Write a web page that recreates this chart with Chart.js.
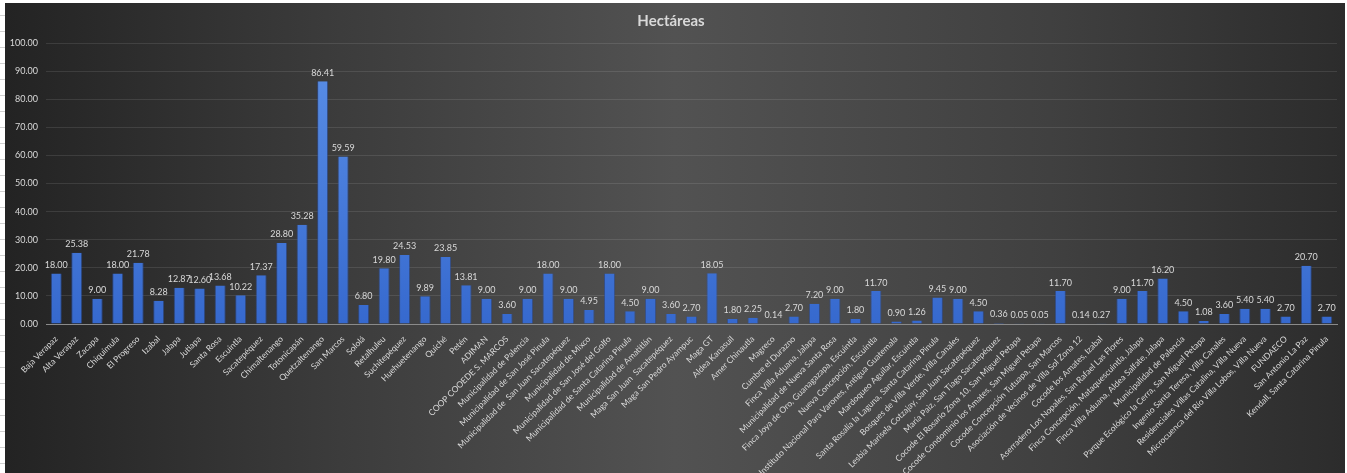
<!DOCTYPE html>
<html>
<head>
<meta charset="utf-8">
<script src="https://cdn.jsdelivr.net/npm/chart.js@4"></script>
<style>
  html, body { margin: 0; padding: 0; background: #fff; }
  body { width: 1347px; height: 473px; position: relative; overflow: hidden; }
  .sheet-edge {
    position: absolute; left: 0; top: 0; width: 5px; height: 473px;
    background: repeating-linear-gradient(to bottom, #fff 0px, #fff 15px, #d0d0d0 15px, #d0d0d0 16px);
  }
  .chart-box {
    position: absolute; left: 5px; top: 3px; width: 1340px; height: 470px;
    background: linear-gradient(to right, #232323 0%, #3c3c3c 25%, #525252 50%, #404040 78%, #2c2c2c 100%);
  }
</style>
</head>
<body>
<div class="sheet-edge"></div>
<div class="chart-box"><canvas id="hectareas-chart" width="1340" height="470"></canvas></div>
<script>
// Hectáreas por lugar

const lugares = [
    'Baja Verapaz', 'Alta Verapaz', 'Zacapa', 'Chiquimula', 'El Progreso', 'Izabal', 'Jalapa', 'Jutiapa',
    'Santa Rosa', 'Escuintla', 'Sacatepéquez', 'Chimaltenango', 'Totonicapán', 'Quetzaltenango', 'San Marcos',
    'Sololá', 'Retalhuleu', 'Suchitepéquez', 'Huehuetenango', 'Quiché', 'Petén', 'ADIMAN',
    'COOP COOEDE S. MARCOS', 'Municipalidad de Palencia', 'Municipalidad de San José Pinula',
    'Municipalidad de  San Juan Sacatepéquez', 'Municipalidad de Mixco', 'Municipalidad de San José del Golfo',
    'Municipalidad de Santa Catarina Pinula', 'Municipalidad de Amatitlán', 'Maga San Juan  Sacatepéquez',
    'Maga San Pedro Ayampuc', 'Maga GT', 'Aldea Kanasuil', 'Amer Chinautla', 'Magreco', 'Cumbre el Durazno',
    'Finca Villa Aduana, Jalapa', 'Municipalidad de Nueva Santa Rosa', 'Finca Joya de Oro, Guanagazapa, Escuintla',
    'Nueva Concepción, Escuintla', 'Instituto Nacional Para Varones, Antigua Guatemala',
    'Mardoqueo Aguilar, Escuintla', 'Santa Rosalía la Laguna, Santa Catarina Pinula',
    'Bosques de Villa Verde, Villa Canales', 'Lesbia Marisela Cotzajay, San Juan Sacatepéquez',
    'María Paiz, San Tiago Sacatepéquez', 'Cocode El Rosario Zona 10, San Miguel Petapa',
    'Cocode Condominio los Amates, San Miguel Petapa', 'Cocode Concepción Tutuapa, San Marcos',
    'Asociación de Vecinos de Villa Sol Zona 12', 'Cocode los Amates, Izabal',
    'Aserradero Los Nopales, San Rafael Las Flores', 'Finca Concepción, Mataquescuintla, Jalapa',
    'Finca Villa Aduana, Aldea Salfate, Jalapa', 'Municipalidad de Palencia',
    'Parque Ecológico la Cerra, San Miguel Petapa', 'Ingenio Santa Teresa, Villa Canales',
    'Residenciales Villas Catalina, Villa Nueva', 'Microcuenca del Río Villa Lobos, Villa Nueva',
    'FUNDAECO', 'San Antonio La Paz', 'Kendall, Santa Catarina Pinula'
];

const hectareas = [
    18.00, 25.38, 9.00, 18.00, 21.78, 8.28, 12.87, 12.60,
    13.68, 10.22, 17.37, 28.80, 35.28, 86.41, 59.59,
    6.80, 19.80, 24.53, 9.89, 23.85, 13.81, 9.00,
    3.60, 9.00, 18.00,
    9.00, 4.95, 18.00,
    4.50, 9.00, 3.60,
    2.70, 18.05, 1.80, 2.25, 0.14, 2.70,
    7.20, 9.00, 1.80,
    11.70, 0.90,
    1.26, 9.45,
    9.00, 4.50,
    0.36, 0.05,
    0.05, 11.70,
    0.14, 0.27,
    9.00, 11.70,
    16.20, 4.50,
    1.08, 3.60,
    5.40, 5.40,
    2.70, 20.70, 2.70
];

const yTicks = [0, 10, 20, 30, 40, 50, 60, 70, 80, 90, 100];

const textColor = '#d9d9d9';
const fontFamily = 'Lato, "Liberation Sans", sans-serif';

// Vertical gradient for the bars, built from the chart area
function barGradient(context) {
    const chart = context.chart;
    const area = chart.chartArea;
    if (!area) return '#4a7fdc';
    const g = chart.ctx.createLinearGradient(0, area.top, 0, area.bottom);
    g.addColorStop(0, '#5b90e8');
    g.addColorStop(1, '#3669ce');
    return g;
}

// Value labels above each bar
const valueLabels = {
    id: 'valueLabels',
    afterDatasetsDraw(chart) {
        const ctx = chart.ctx;
        const meta = chart.getDatasetMeta(0);
        ctx.save();
        ctx.fillStyle = textColor;
        ctx.font = '9px ' + fontFamily;
        ctx.textAlign = 'center';
        ctx.textBaseline = 'bottom';
        meta.data.forEach((bar, i) => {
            ctx.fillText(hectareas[i].toFixed(2), bar.x, bar.y - 4);
        });
        ctx.restore();
    }
};

const ctx = document.getElementById('hectareas-chart').getContext('2d');
const hectareasChart = new Chart(ctx, {
    type: 'bar',
    data: {
        labels: lugares,
        datasets: [{
            label: 'Hectáreas',
            data: hectareas,
            backgroundColor: barGradient,
            borderColor: 'rgba(40, 80, 170, 0.6)',
            borderWidth: { left: 1, right: 1, top: 0, bottom: 0 },
            categoryPercentage: 1.0,
            barPercentage: 0.54
        }]
    },
    options: {
        responsive: false,
        animation: false,
        devicePixelRatio: 1,
        layout: { padding: { left: 0, right: 8, top: 0, bottom: 0 } },
        plugins: {
            legend: { display: false },
            tooltip: { enabled: false },
            title: {
                display: true,
                text: 'Hectáreas',
                color: textColor,
                font: { family: fontFamily, size: 15, weight: 'bold' },
                padding: { top: 9, bottom: 13 }
            }
        },
        scales: {
            x: {
                grid: { display: false },
                border: { display: true, color: '#8a8a8a', width: 1 },
                ticks: {
                    color: textColor,
                    font: { family: fontFamily, size: 8.5 },
                    autoSkip: false,
                    minRotation: 45,
                    maxRotation: 45,
                    padding: 2
                },
                afterFit(scale) { scale.height = 149; }
            },
            y: {
                min: 0,
                max: 100,
                afterBuildTicks(scale) { scale.ticks = yTicks.map(v => ({ value: v })); },
                grid: { color: 'rgba(255, 255, 255, 0.1)', lineWidth: 1, drawTicks: false },
                border: { display: false },
                ticks: {
                    color: textColor,
                    font: { family: fontFamily, size: 9 },
                    padding: 8,
                    callback: v => Number(v).toFixed(2)
                },
                afterFit(scale) { scale.width = 41; }
            }
        }
    },
    plugins: [valueLabels]
});
</script>
</body>
</html>
